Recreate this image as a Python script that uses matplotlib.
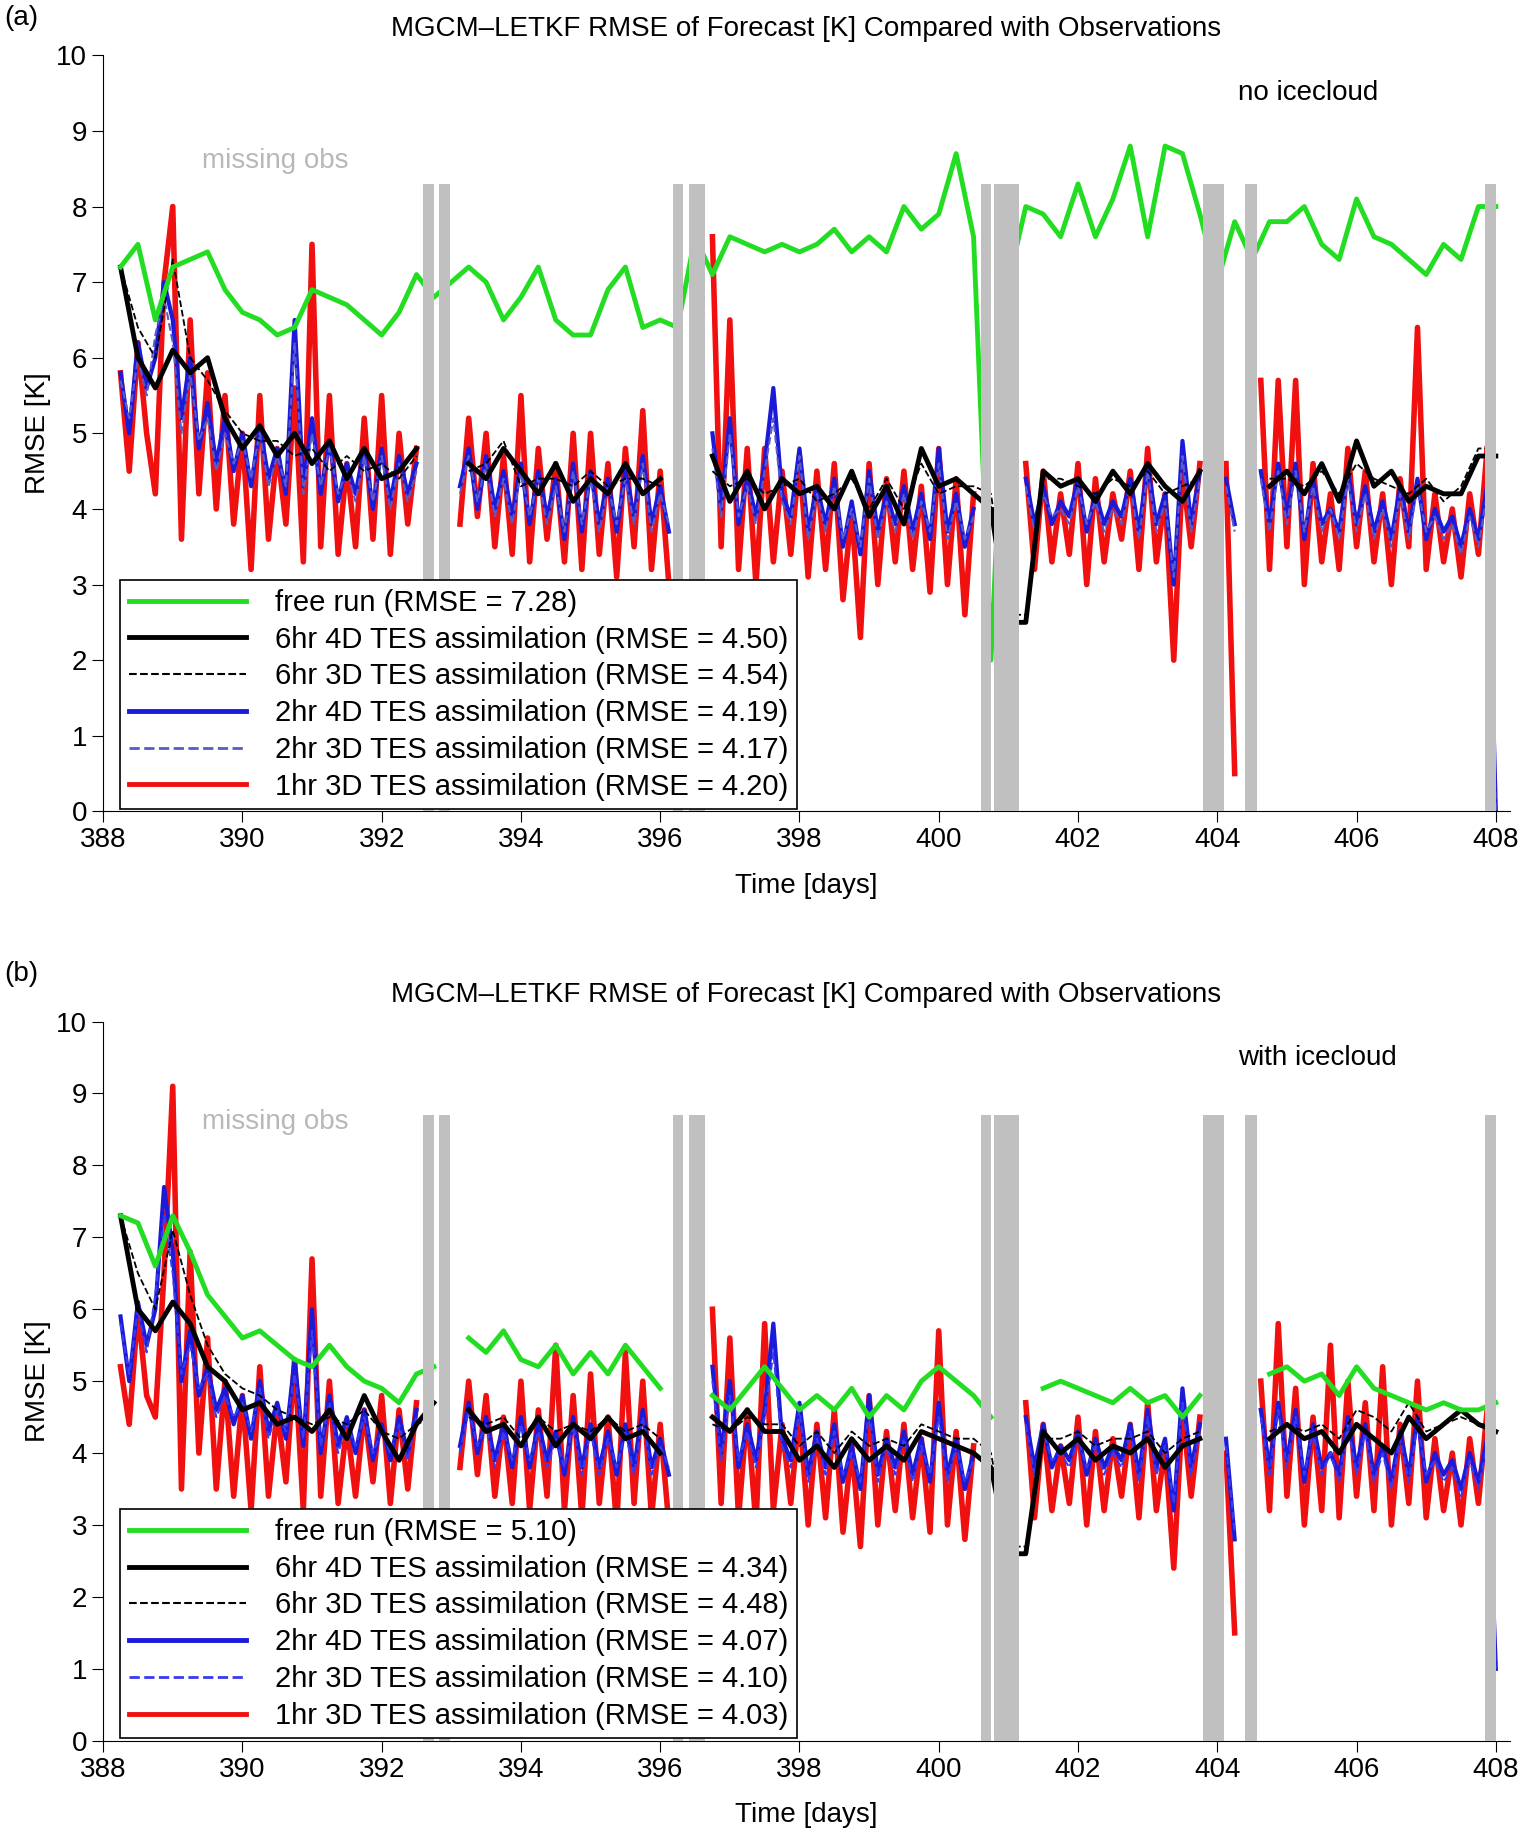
import numpy as np
import matplotlib.pyplot as plt

nan = np.nan

# missing-observation windows (days)
gaps = [(392.6, 392.75), (392.82, 392.98), (396.18, 396.33), (396.42, 396.65),
        (400.6, 400.75), (400.8, 401.15), (403.8, 404.1), (404.4, 404.57), (407.84, 408.0)]

# ---- panel (a): every 6 hr, from 388.25 ----
green_a = [7.2, 7.5, 6.5, 7.2, 7.3, 7.4, 6.9, 6.6, 6.5, 6.3, 6.4, 6.9, 6.8, 6.7, 6.5, 6.3,
           6.6, 7.1, 6.8, 7.0, 7.2, 7.0, 6.5, 6.8, 7.2, 6.5, 6.3, 6.3, 6.9, 7.2, 6.4, 6.5,
           6.4, 7.6, 7.1, 7.6, 7.5, 7.4, 7.5, 7.4, 7.5, 7.7, 7.4, 7.6, 7.4, 8.0, 7.7, 7.9,
           8.7, 7.6, 2.0, 7.0, 8.0, 7.9, 7.6, 8.3, 7.6, 8.1, 8.8, 7.6, 8.8, 8.7, 7.9, 7.0,
           7.8, 7.3, 7.8, 7.8, 8.0, 7.5, 7.3, 8.1, 7.6, 7.5, 7.3, 7.1, 7.5, 7.3, 8.0, 8.0]
black4d_a = [7.2, 6.0, 5.6, 6.1, 5.8, 6.0, 5.2, 4.8, 5.1, 4.7, 5.0, 4.6, 4.9, 4.4, 4.8, 4.4,
             4.5, 4.8, nan, nan, 4.6, 4.4, 4.8, 4.5, 4.2, 4.6, 4.1, 4.4, 4.2, 4.6, 4.2, 4.4,
             nan, nan, 4.7, 4.1, 4.5, 4.0, 4.4, 4.2, 4.3, 4.0, 4.5, 3.9, 4.3, 3.8, 4.8, 4.3,
             4.4, 4.2, 4.0, 2.5, 2.5, 4.5, 4.3, 4.4, 4.1, 4.5, 4.2, 4.6, 4.3, 4.1, 4.5, nan,
             4.4, nan, 4.3, 4.5, 4.2, 4.6, 4.1, 4.9, 4.3, 4.5, 4.1, 4.3, 4.2, 4.2, 4.7, 4.7]
black3d_a = [7.2, 6.4, 6.0, 7.3, 6.0, 5.7, 5.3, 5.0, 4.9, 4.9, 4.7, 4.8, 4.5, 4.7, 4.5, 4.6,
             4.4, 4.7, nan, nan, 4.5, 4.6, 4.9, 4.3, 4.4, 4.4, 4.3, 4.5, 4.3, 4.4, 4.4, 4.3,
             nan, nan, 4.5, 4.3, 4.4, 4.2, 4.3, 4.4, 4.1, 4.2, 4.4, 4.0, 4.4, 4.0, 4.6, 4.2,
             4.3, 4.3, 4.2, 2.6, 2.6, 4.4, 4.4, 4.3, 4.2, 4.4, 4.3, 4.5, 4.2, 4.3, 4.4, nan,
             4.5, nan, 4.4, 4.4, 4.3, 4.5, 4.2, 4.6, 4.4, 4.3, 4.2, 4.4, 4.1, 4.3, 4.8, 4.8]

# every 3 hr, from 388.25
blue4d_a = [5.8, 5.0, 6.2, 5.6, 6.0, 7.0,
            6.5, 5.2, 6.0, 4.8, 5.4, 4.6, 5.2, 4.5,
            5.0, 4.3, 5.1, 4.4, 4.8, 4.2, 6.5, 4.3,
            5.2, 4.2, 4.9, 4.1, 4.6, 4.2, 4.8, 4.0,
            4.8, 4.1, 4.7, 4.2, 4.6, nan, nan, 8.4,
            nan, 4.3, 4.8, 4.0, 4.7, 4.0, 4.5, 3.9,
            4.6, 3.8, 4.5, 3.9, 4.4, 3.6, 4.6, 3.7,
            4.5, 3.8, 4.4, 3.7, 4.5, 3.9, 4.7, 3.8,
            4.3, 3.7, nan, nan, nan, nan, 5.0, 4.0,
            5.2, 3.8, 4.4, 3.9, 4.6, 5.6, 4.2, 3.9,
            4.8, 3.7, 4.3, 3.8, 4.4, 3.5, 4.1, 3.4,
            4.5, 3.7, 4.2, 3.8, 4.3, 3.7, 4.2, 3.6,
            4.8, 3.7, 4.2, 3.5, 4.0, nan, 0.0, nan,
            nan, nan, 4.4, 3.8, 4.3, 3.8, 4.1, 3.9,
            4.4, 3.7, 4.2, 3.8, 4.1, 3.9, 4.4, 3.7,
            4.6, 3.8, 4.2, 3.0, 4.9, 3.8, 4.5, nan,
            nan, 4.4, 3.8, nan, nan, 4.5, 3.8, 4.6,
            3.9, 4.6, 3.6, 4.4, 3.8, 4.0, 3.7, 4.5,
            3.8, 4.3, 3.7, 4.1, 3.6, 4.3, 3.7, 4.4,
            3.6, 4.0, 3.7, 3.9, 3.5, 4.0, 3.6, 4.3,
            0.0]
blue3d_a = [5.7, 5.2, 6.0, 5.5, 6.3, 6.8,
            6.2, 5.0, 5.8, 4.9, 5.2, 4.5, 5.0, 4.6,
            4.9, 4.4, 5.0, 4.3, 4.7, 4.3, 6.2, 4.2,
            5.0, 4.3, 4.8, 4.2, 4.5, 4.1, 4.7, 4.1,
            4.7, 4.0, 4.6, 4.1, 4.5, nan, nan, 7.5,
            nan, 4.2, 4.7, 4.1, 4.6, 3.9, 4.4, 3.8,
            4.5, 3.9, 4.4, 3.8, 4.3, 3.7, 4.5, 3.8,
            4.4, 3.7, 4.3, 3.8, 4.4, 3.8, 4.6, 3.7,
            4.2, 3.8, nan, nan, nan, nan, 4.8, 3.9,
            5.0, 3.9, 4.3, 3.8, 4.5, 5.2, 4.1, 3.8,
            4.7, 3.6, 4.2, 3.7, 4.3, 3.6, 4.0, 3.5,
            4.4, 3.6, 4.1, 3.7, 4.2, 3.6, 4.1, 3.7,
            4.6, 3.6, 4.1, 3.6, 3.9, nan, 0.0, nan,
            nan, nan, 4.3, 3.7, 4.2, 3.9, 4.0, 3.8,
            4.3, 3.8, 4.1, 3.7, 4.0, 3.8, 4.3, 3.6,
            4.5, 3.7, 4.1, 3.1, 4.7, 3.7, 4.4, nan,
            nan, 4.3, 3.7, nan, nan, 4.4, 3.7, 4.5,
            3.8, 4.5, 3.7, 4.3, 3.7, 4.0, 3.6, 4.4,
            3.7, 4.2, 3.6, 4.0, 3.5, 4.2, 3.6, 4.3,
            3.7, 3.9, 3.6, 3.8, 3.4, 3.9, 3.5, 4.2,
            0.0]
red_a = [5.8, 4.5, 6.2, 5.0, 4.2, 7.0,
         8.0, 3.6, 6.5, 4.2, 5.8, 4.0, 5.5, 3.8,
         5.0, 3.2, 5.5, 3.6, 4.8, 3.8, 5.6, 3.3,
         7.5, 3.5, 5.5, 3.4, 4.6, 3.5, 5.2, 3.6,
         5.5, 3.4, 5.0, 3.8, 4.8, nan, nan, nan,
         nan, 3.8, 5.2, 3.9, 5.0, 3.5, 4.7, 3.4,
         5.5, 3.3, 4.8, 3.6, 4.6, 3.3, 5.0, 3.2,
         5.0, 3.4, 4.6, 3.1, 4.8, 3.5, 5.3, 3.2,
         4.5, 3.0, nan, nan, nan, nan, 7.6, 3.5,
         6.5, 3.2, 4.8, 3.0, 4.8, 3.3, 4.5, 3.4,
         4.7, 3.1, 4.5, 3.2, 4.6, 2.8, 4.0, 2.3,
         4.6, 3.0, 4.4, 3.3, 4.5, 3.2, 4.3, 2.9,
         4.8, 3.0, 4.4, 2.6, 4.2, nan, nan, nan,
         nan, nan, 4.6, 3.2, 4.5, 3.3, 4.2, 3.4,
         4.6, 3.0, 4.4, 3.3, 4.2, 3.6, 4.5, 3.2,
         4.8, 3.3, 4.2, 2.0, 4.5, 3.5, 4.6, nan,
         nan, 4.6, 0.5, nan, nan, 5.7, 3.2, 5.7,
         3.5, 5.7, 3.0, 4.6, 3.3, 4.2, 3.2, 4.8,
         3.5, 4.5, 3.3, 4.2, 3.0, 4.4, 3.5, 6.4,
         3.2, 4.2, 3.3, 4.0, 3.1, 4.2, 3.4, 4.8,
         nan]

# ---- panel (b) ----
green_b = [7.3, 7.2, 6.6, 7.3, 6.8, 6.2, 5.9, 5.6, 5.7, 5.5, 5.3, 5.2, 5.5, 5.2, 5.0, 4.9,
           4.7, 5.1, 5.2, nan, 5.6, 5.4, 5.7, 5.3, 5.2, 5.5, 5.1, 5.4, 5.1, 5.5, 5.2, 4.9,
           nan, nan, 4.8, 4.6, 4.9, 5.2, 4.9, 4.6, 4.8, 4.6, 4.9, 4.5, 4.8, 4.6, 5.0, 5.2,
           5.0, 4.8, 4.5, nan, nan, 4.9, 5.0, 4.9, 4.8, 4.7, 4.9, 4.7, 4.8, 4.5, 4.8, nan,
           4.6, nan, 5.1, 5.2, 5.0, 5.1, 4.8, 5.2, 4.9, 4.8, 4.7, 4.6, 4.7, 4.6, 4.6, 4.7]
black4d_b = [7.3, 6.0, 5.7, 6.1, 5.8, 5.2, 5.0, 4.6, 4.7, 4.4, 4.5, 4.3, 4.6, 4.2, 4.8, 4.3,
             3.9, 4.4, 4.7, nan, 4.6, 4.3, 4.4, 4.1, 4.5, 4.1, 4.4, 4.2, 4.5, 4.2, 4.3, 4.0,
             nan, nan, 4.5, 4.3, 4.6, 4.3, 4.3, 3.9, 4.1, 3.8, 4.2, 3.9, 4.1, 3.9, 4.3, 4.2,
             4.1, 4.0, 3.8, 2.6, 2.6, 4.3, 4.0, 4.2, 3.9, 4.1, 4.0, 4.2, 3.8, 4.1, 4.2, nan,
             3.8, nan, 4.2, 4.4, 4.2, 4.3, 4.0, 4.4, 4.2, 4.0, 4.5, 4.2, 4.4, 4.6, 4.4, 4.3]
black3d_b = [7.3, 6.5, 6.0, 7.1, 6.2, 5.5, 5.1, 4.9, 4.8, 4.6, 4.5, 4.4, 4.5, 4.4, 4.6, 4.3,
             4.2, 4.4, 4.5, nan, 4.5, 4.4, 4.5, 4.2, 4.5, 4.3, 4.4, 4.3, 4.5, 4.3, 4.4, 4.2,
             nan, nan, 4.4, 4.3, 4.5, 4.4, 4.4, 4.1, 4.3, 4.0, 4.3, 4.1, 4.2, 4.1, 4.4, 4.3,
             4.2, 4.2, 4.0, 2.7, 2.7, 4.2, 4.2, 4.3, 4.1, 4.2, 4.2, 4.3, 4.0, 4.2, 4.3, nan,
             4.0, nan, 4.3, 4.4, 4.3, 4.4, 4.2, 4.6, 4.5, 4.3, 4.7, 4.3, 4.4, 4.5, 4.4, 4.4]
blue4d_b = [5.9, 5.0, 6.1, 5.5, 6.0, 7.7,
            6.8, 5.0, 5.7, 4.8, 5.2, 4.6, 4.9, 4.4,
            4.8, 4.2, 5.0, 4.3, 4.7, 4.2, 5.3, 4.1,
            6.0, 4.0, 4.8, 4.1, 4.5, 4.0, 4.6, 3.9,
            4.4, 3.9, 4.5, 4.0, 4.6, nan, nan, 7.0,
            nan, 4.1, 4.7, 4.0, 4.5, 3.9, 4.4, 3.8,
            4.5, 3.8, 4.4, 3.9, 4.3, 3.7, 4.5, 3.8,
            4.4, 3.8, 4.3, 3.7, 4.4, 3.8, 4.6, 3.8,
            4.2, 3.7, nan, nan, nan, nan, 5.2, 4.0,
            5.0, 3.8, 4.4, 3.9, 4.6, 5.8, 4.2, 3.9,
            4.7, 3.7, 4.3, 3.8, 4.4, 3.6, 4.1, 3.5,
            4.8, 3.7, 4.2, 3.8, 4.3, 3.7, 4.2, 3.6,
            4.7, 3.7, 4.2, 3.5, 4.0, nan, 0.3, nan,
            nan, nan, 4.5, 3.8, 4.4, 3.8, 4.1, 3.9,
            4.3, 3.7, 4.2, 3.8, 4.1, 3.9, 4.4, 3.7,
            4.6, 3.8, 4.2, 3.2, 4.9, 3.8, 4.4, nan,
            nan, 4.2, 2.8, nan, nan, 4.6, 3.8, 4.7,
            3.9, 4.6, 3.6, 4.4, 3.8, 4.0, 3.7, 4.5,
            3.8, 4.4, 3.7, 4.1, 3.6, 4.3, 3.7, 4.5,
            3.6, 4.0, 3.7, 3.9, 3.5, 4.0, 3.6, 4.2,
            1.0]
blue3d_b = [5.8, 5.1, 6.0, 5.4, 6.2, 7.3,
            6.5, 5.1, 5.5, 4.9, 5.1, 4.5, 4.8, 4.5,
            4.7, 4.3, 4.9, 4.2, 4.6, 4.3, 5.1, 4.2,
            5.7, 4.1, 4.7, 4.0, 4.4, 4.1, 4.5, 4.0,
            4.3, 4.0, 4.4, 3.9, 4.5, nan, nan, 6.5,
            nan, 4.0, 4.6, 4.1, 4.4, 3.8, 4.3, 3.9,
            4.4, 3.9, 4.3, 3.8, 4.2, 3.8, 4.4, 3.7,
            4.3, 3.7, 4.2, 3.8, 4.3, 3.7, 4.5, 3.7,
            4.1, 3.8, nan, nan, nan, nan, 5.0, 3.9,
            4.8, 3.9, 4.3, 3.8, 4.5, 5.4, 4.1, 3.8,
            4.6, 3.6, 4.2, 3.7, 4.3, 3.7, 4.0, 3.6,
            4.6, 3.6, 4.1, 3.7, 4.2, 3.6, 4.1, 3.7,
            4.5, 3.6, 4.1, 3.6, 3.9, nan, 0.3, nan,
            nan, nan, 4.4, 3.7, 4.3, 3.9, 4.0, 3.8,
            4.2, 3.8, 4.1, 3.7, 4.0, 3.8, 4.3, 3.6,
            4.5, 3.7, 4.1, 3.3, 4.7, 3.7, 4.3, nan,
            nan, 4.1, 2.9, nan, nan, 4.5, 3.7, 4.6,
            3.8, 4.5, 3.7, 4.3, 3.7, 4.0, 3.6, 4.4,
            3.7, 4.3, 3.6, 4.0, 3.5, 4.2, 3.6, 4.4,
            3.7, 3.9, 3.6, 3.8, 3.4, 3.9, 3.5, 4.1,
            1.0]
red_b = [5.2, 4.4, 6.0, 4.8, 4.5, 6.5,
         9.1, 3.5, 6.8, 4.0, 5.6, 3.5, 5.0, 3.4,
         4.8, 3.2, 5.2, 3.4, 4.6, 3.6, 5.3, 3.2,
         6.7, 3.4, 5.0, 3.3, 4.4, 3.4, 4.6, 3.6,
         4.8, 3.3, 4.6, 3.5, 4.7, nan, nan, nan,
         nan, 3.8, 5.0, 3.7, 4.8, 3.4, 4.5, 3.3,
         5.0, 3.2, 4.6, 3.4, 5.5, 3.2, 4.8, 3.1,
         5.1, 3.3, 4.5, 3.0, 5.4, 3.3, 5.0, 3.1,
         4.4, 3.0, nan, nan, nan, nan, 6.0, 3.3,
         5.6, 3.1, 4.6, 3.0, 5.8, 3.2, 4.4, 3.3,
         4.6, 3.0, 4.4, 3.1, 4.6, 2.9, 4.1, 2.7,
         4.8, 3.0, 4.3, 3.2, 4.4, 3.1, 4.2, 2.9,
         5.7, 3.0, 4.3, 2.8, 4.1, nan, nan, nan,
         nan, nan, 4.7, 3.1, 4.4, 3.2, 4.1, 3.3,
         4.5, 3.0, 4.3, 3.2, 4.2, 3.4, 4.4, 3.1,
         4.7, 3.2, 4.1, 2.4, 4.6, 3.4, 4.5, nan,
         nan, 4.0, 1.5, nan, nan, 5.0, 3.2, 5.8,
         3.4, 4.9, 3.0, 4.5, 3.2, 5.5, 3.1, 5.0,
         3.4, 4.7, 3.2, 5.2, 3.0, 4.4, 3.3, 5.0,
         3.1, 4.2, 3.2, 4.0, 3.0, 4.2, 3.3, 4.6,
         nan]

panels = [
    dict(tag='(a)', note='no icecloud', gaptop=8.3,
         green=green_a, b4=black4d_a, b3=black3d_a, u4=blue4d_a, u3=blue3d_a, red=red_a,
         rmse=[7.28, 4.50, 4.54, 4.19, 4.17, 4.20], u3col='#5a5ac8'),
    dict(tag='(b)', note='with icecloud', gaptop=8.7,
         green=green_b, b4=black4d_b, b3=black3d_b, u4=blue4d_b, u3=blue3d_b, red=red_b,
         rmse=[5.10, 4.34, 4.48, 4.07, 4.10, 4.03], u3col='#3a3af0'),
]

plt.rcParams['font.family'] = 'Liberation Sans'
fig = plt.figure(figsize=(15.39, 18.44), dpi=100)
rects = [[0.067, 0.56, 0.914, 0.41], [0.067, 0.056, 0.914, 0.39]]
tops = [0.99, 0.472]
FS = 20


def tgrid(vals, step):
    return 388.25 + step * np.arange(len(vals))


for p, rect, top in zip(panels, rects, tops):
    ax = fig.add_axes(rect)
    ax.plot(tgrid(p['red'], 0.125), p['red'], color='#f01010', lw=4, zorder=1)
    ax.plot(tgrid(p['u4'], 0.125), p['u4'], color='#1a1ad8', lw=3, zorder=2)
    ax.plot(tgrid(p['u3'], 0.125), p['u3'], color=p['u3col'], lw=1.5, ls='--', zorder=3)
    ax.plot(tgrid(p['b4'], 0.25), p['b4'], color='black', lw=3.5, zorder=4)
    ax.plot(tgrid(p['b3'], 0.25), p['b3'], color='black', lw=1.3, ls='--', zorder=5)
    ax.plot(tgrid(p['green'], 0.25), p['green'], color='#22dd22', lw=3.5, zorder=6)
    for g0, g1 in gaps:
        ax.fill_between([g0, g1], 0, p['gaptop'], color='#c0c0c0', lw=0, zorder=7)

    names = ['free run', '6hr 4D TES assimilation', '6hr 3D TES assimilation',
             '2hr 4D TES assimilation', '2hr 3D TES assimilation', '1hr 3D TES assimilation']
    styles = [('#22dd22', '-', 3.5), ('black', '-', 3.5), ('black', '--', 1.5),
              ('#1a1ad8', '-', 3.5), (p['u3col'], '--', 2), ('#f01010', '-', 3.5)]
    handles = [plt.Line2D([], [], color=c, ls=s, lw=w) for c, s, w in styles]
    labels = [f'{n} (RMSE = {r:.2f})' for n, r in zip(names, p['rmse'])]
    leg = ax.legend(handles, labels, loc='lower left', bbox_to_anchor=(0.008, -0.005),
                    fontsize=FS + 1, handlelength=4.0, frameon=True, fancybox=False,
                    framealpha=1, borderpad=0.3, labelspacing=0.3, handletextpad=1.0,
                    borderaxespad=0.2)
    leg.get_frame().set_edgecolor('black')
    leg.get_frame().set_linewidth(1.2)
    leg.set_zorder(10)

    ax.set_xlim(388, 408.2)
    ax.set_ylim(0, 10)
    ax.set_xticks(range(388, 409, 2))
    ax.set_yticks(range(0, 11))
    ax.tick_params(labelsize=FS, direction='out', length=8)
    ax.spines['top'].set_visible(False)
    ax.spines['right'].set_visible(False)
    ax.set_ylabel('RMSE [K]', fontsize=FS)
    ax.set_xlabel('Time [days]', fontsize=FS, labelpad=14)
    ax.set_title('MGCM\u2013LETKF RMSE of Forecast [K] Compared with Observations',
                 fontsize=FS, pad=14)
    ax.text(0.807, 0.95, p['note'], transform=ax.transAxes, fontsize=FS, va='center')
    ax.text(0.07, 0.86, 'missing obs', transform=ax.transAxes, fontsize=FS,
            color='#b8b8b8', va='center')
    fig.text(0.003, top, p['tag'], fontsize=FS, va='center')

fig.savefig('out.png', dpi=100)
